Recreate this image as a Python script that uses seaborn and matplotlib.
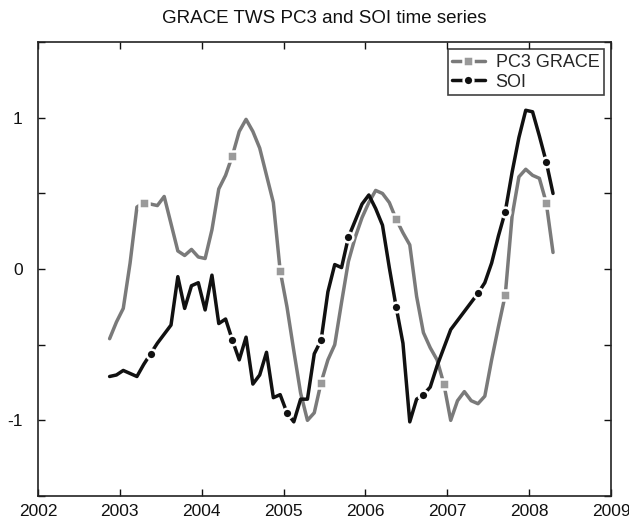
import numpy as np
import pandas as pd
import seaborn as sns
import matplotlib
matplotlib.use("Agg")
import matplotlib.pyplot as plt
from matplotlib.lines import Line2D

# Monthly samples, Nov 2002 .. Apr 2008 (decimal years)
start_year = 2002.875
n_months = 66

pc3_grace = [
    -0.46, -0.35, -0.26, 0.04, 0.41, 0.44, 0.43, 0.42, 0.48, 0.30,
    0.12, 0.09, 0.13, 0.08, 0.07, 0.26, 0.53, 0.62, 0.75, 0.91,
    0.99, 0.91, 0.80, 0.62, 0.44, -0.01, -0.25, -0.54, -0.82, -1.00,
    -0.95, -0.75, -0.60, -0.50, -0.22, 0.05, 0.21, 0.34, 0.44, 0.52,
    0.50, 0.44, 0.33, 0.24, 0.16, -0.18, -0.42, -0.52, -0.60, -0.76,
    -1.00, -0.87, -0.81, -0.87, -0.89, -0.84, -0.60, -0.38, -0.17, 0.35,
    0.61, 0.66, 0.62, 0.60, 0.44, 0.11,
]
soi = [
    -0.71, -0.70, -0.67, -0.69, -0.71, -0.63, -0.56, -0.49, -0.43, -0.37,
    -0.05, -0.26, -0.11, -0.09, -0.27, -0.04, -0.36, -0.33, -0.47, -0.60,
    -0.45, -0.76, -0.70, -0.55, -0.85, -0.83, -0.95, -1.01, -0.86, -0.86,
    -0.56, -0.47, -0.15, 0.03, 0.01, 0.21, 0.32, 0.43, 0.49, 0.40,
    0.29, 0.01, -0.25, -0.49, -1.01, -0.86, -0.83, -0.78, -0.64, -0.52,
    -0.40, -0.34, -0.28, -0.22, -0.16, -0.09, 0.04, 0.22, 0.38, 0.64,
    0.87, 1.05, 1.04, 0.88, 0.71, 0.50,
]
pc3_marks = [5, 18, 25, 31, 42, 49, 58, 64]
soi_marks = [6, 18, 26, 31, 35, 42, 46, 54, 58, 64]

x_ticks = [2002, 2003, 2004, 2005, 2006, 2007, 2008, 2009]
y_ticks = [-1.5, -1.0, -0.5, 0.0, 0.5, 1.0, 1.5]
y_tick_labels = ["", "-1", "", "0", "", "1", ""]

years = start_year + np.arange(n_months) / 12.0
df = pd.DataFrame({"year": years, "PC3 GRACE": pc3_grace, "SOI": soi})

sns.set_theme(style="ticks")
plt.rcParams["font.family"] = ["Liberation Sans", "DejaVu Sans"]

fig = plt.figure(figsize=(6.29, 5.21), dpi=100)
ax = fig.add_axes([0.0604, 0.048, 0.911, 0.871])

grey = "#7a7a7a"
grey_marker = "#9a9a9a"
dark = "#111111"

line_style = dict(lw=2.5, markersize=7, markeredgecolor="white",
                  markeredgewidth=1.8)

sns.lineplot(data=df, x="year", y="PC3 GRACE", ax=ax, color=grey,
             marker="s", markevery=pc3_marks, markerfacecolor=grey_marker,
             solid_joinstyle="round", **line_style)
sns.lineplot(data=df, x="year", y="SOI", ax=ax, color=dark,
             marker="o", markevery=soi_marks, markerfacecolor=dark,
             solid_joinstyle="round", **line_style)

ax.set_xlim(2002, 2009)
ax.set_ylim(-1.5, 1.5)
ax.set_xticks(x_ticks)
ax.set_xticklabels([str(v) for v in x_ticks])
ax.set_yticks(y_ticks)
ax.set_yticklabels(y_tick_labels)
ax.set_xlabel("")
ax.set_ylabel("")
ax.tick_params(direction="in", length=5, width=1.0, top=True, right=True,
               labelsize=12.5, colors=dark)
ax.tick_params(axis="x", pad=6)
ax.tick_params(axis="y", pad=11)
for s in ax.spines.values():
    s.set_linewidth(1.2)
    s.set_color("#222222")

ax.set_title("GRACE TWS PC3 and SOI time series", fontsize=13.5, pad=14,
             color=dark)

handles = [
    Line2D([], [], color=grey, marker="s", markerfacecolor=grey_marker,
           **line_style),
    Line2D([], [], color=dark, marker="o", markerfacecolor=dark,
           **line_style),
]
leg = ax.legend(handles, ["PC3 GRACE", "SOI"], loc="upper right",
                fontsize=13, frameon=True, fancybox=False, handlelength=1.8,
                borderpad=0.25, labelspacing=0.15, handletextpad=0.6,
                borderaxespad=0.4)
leg.get_frame().set_edgecolor(dark)
leg.get_frame().set_linewidth(1.2)

fig.savefig("out.png", dpi=100, facecolor="white")
